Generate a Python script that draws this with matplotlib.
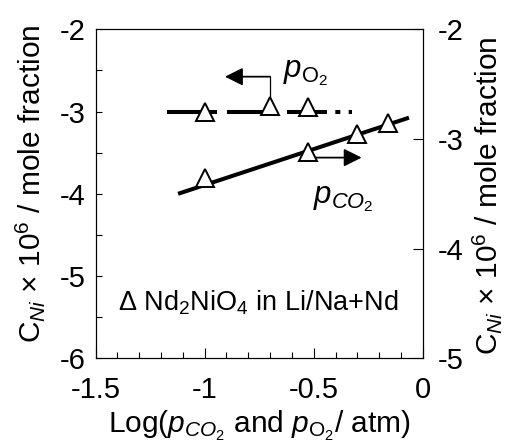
import matplotlib
matplotlib.use("Agg")
import matplotlib.pyplot as plt
from matplotlib.ticker import MultipleLocator

plt.rcParams['font.family'] = ['Liberation Sans', 'DejaVu Sans']
plt.rcParams['mathtext.fontset'] = 'custom'
plt.rcParams['mathtext.rm'] = 'Liberation Sans'
plt.rcParams['mathtext.it'] = 'Liberation Sans:italic'
plt.rcParams['mathtext.bf'] = 'Liberation Sans:bold'
plt.rcParams['axes.unicode_minus'] = False
plt.rcParams['lines.scale_dashes'] = False

# ---- data ----
o2_x = [-1.0, -0.7, -0.526]
o2_y = [-3.0, -2.93, -2.95]          # left axis
co2_x = [-1.0, -0.526, -0.30, -0.16]
co2_y = [-3.358, -3.116, -2.954, -2.851]   # right axis
o2_fit_dash_x = [-1.174, -0.46]
o2_fit_dot_x = [-0.46, -0.326]
o2_fit_y = [-3.0, -3.0]
co2_fit_x = [-1.122, -0.063]
co2_fit_y = [-3.50, -2.806]

x_ticks = [-1.5, -1, -0.5, 0]
x_ticklabels = ['-1.5', '-1', '-0.5', '0']
left_ticks = [-6, -5, -4, -3, -2]
right_ticks = [-5, -4, -3, -2]

W, H = 509, 442
fig = plt.figure(figsize=(W / 100, H / 100), dpi=100)
L, R, T, B = 95.7, 422.7, 29.3, 358.3
ax = fig.add_axes([L / W, 1 - B / H, (R - L) / W, (B - T) / H])
ax2 = ax.twinx()

FS = 21
LFS = 21.5
ax.set_xlim(-1.5, 0)
ax.set_ylim(-6, -2)
ax2.set_ylim(-5, -2)

for a in (ax, ax2):
    for s in a.spines.values():
        s.set_linewidth(0.8)

ax.set_xticks(x_ticks)
ax.set_xticklabels(x_ticklabels)
ax.xaxis.set_minor_locator(MultipleLocator(0.1))
ax.set_yticks(left_ticks)
ax.set_yticklabels([str(v) for v in left_ticks])
ax.yaxis.set_minor_locator(MultipleLocator(0.5))
ax.tick_params(axis='x', which='major', direction='in', length=7, width=0.8, labelsize=FS, pad=13, top=False)
ax.tick_params(axis='x', which='minor', direction='in', length=4, width=0.8, top=False)
ax.tick_params(axis='y', which='both', direction='in', length=4, width=0.8, labelsize=FS, pad=7, right=False)
ax2.set_yticks(right_ticks)
ax2.set_yticklabels([str(v) for v in right_ticks])
ax2.tick_params(axis='y', which='major', direction='in', length=7, width=0.8, labelsize=FS, pad=11)
ax2.tick_params(axis='y', which='minor', right=False)

ax.set_xlabel(r'Log($p_{\mathit{CO}_2}$ and $p_{\mathrm{O}_2}$/ atm)', fontsize=LFS, labelpad=3)

ylab = r'C$_{\mathit{Ni}}$ × 10$^6$ / mole fraction'
fig.text(30 / W, 1 - 184 / H, ylab, rotation=90, fontsize=LFS, ha='center', va='center')
fig.text(487 / W, 1 - 196 / H, ylab, rotation=90, fontsize=LFS, ha='center', va='center')

# pO2 fit (left axis)
ax.plot(o2_fit_dash_x, o2_fit_y, color='black', lw=2.9, dashes=(36, 7.2), solid_capstyle='butt', dash_capstyle='butt', zorder=2)
ax.plot(o2_fit_dot_x, o2_fit_y, color='black', lw=2.9, dashes=(3.6, 6.0), dash_capstyle='butt', zorder=2)
# pCO2 fit (right axis)
ax2.plot(co2_fit_x, co2_fit_y, color='black', lw=2.9, solid_capstyle='butt', zorder=2)

# arrows
ax.plot([o2_x[1], o2_x[1]], [-2.81, -2.576], color='black', lw=0.9, zorder=1)
ax.annotate('', xy=(-0.907, -2.576), xytext=(o2_x[1], -2.576),
            arrowprops=dict(arrowstyle='-|>,head_length=1.08,head_width=0.54', mutation_scale=10,
                            color='black', lw=1.3, shrinkA=0, shrinkB=0), zorder=1)
ax2.annotate('', xy=(-0.28, -3.17), xytext=(-0.526, -3.17),
             arrowprops=dict(arrowstyle='-|>,head_length=1.08,head_width=0.54', mutation_scale=10,
                             color='black', lw=1.3, shrinkA=0, shrinkB=0), zorder=1)

# markers
ax.plot(o2_x, o2_y, linestyle='none', marker='^', markersize=13.5, markerfacecolor='white',
        markeredgecolor='black', markeredgewidth=1.4, zorder=4)
ax2.plot(co2_x, co2_y, linestyle='none', marker='^', markersize=13.5, markerfacecolor='white',
         markeredgecolor='black', markeredgewidth=1.4, zorder=4)

ax.text(-0.64, -2.59, r'$p_{\mathrm{O}_2}$', fontsize=22.5, ha='left', va='baseline')
ax2.text(-0.505, -3.59, r'$p_{\mathit{CO}_2}$', fontsize=22.5, ha='left', va='baseline')
ax.text(-1.40, -5.33, r'Δ Nd$_2$NiO$_4$ in Li/Na+Nd', fontsize=19.5, ha='left', va='center')

fig.savefig('out.png', dpi=100)
